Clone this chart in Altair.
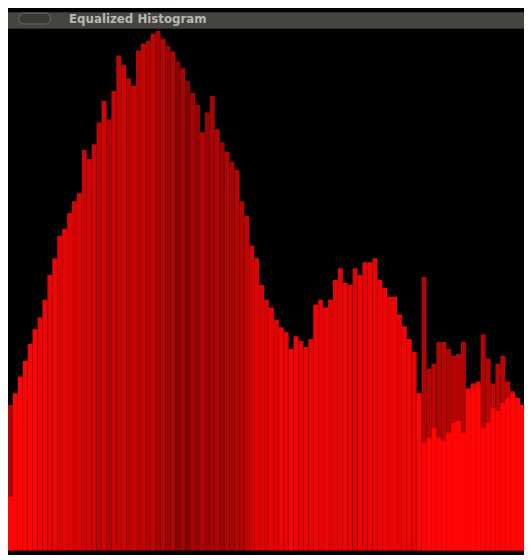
import altair as alt
import pandas as pd

# Bar heights (histogram counts, in plot units), one per 5-px bin
counts = [
    148, 160, 177, 193, 210, 225, 237, 255, 280, 297,
    320, 327, 343, 355, 363, 407, 398, 413, 435, 457,
    438, 467, 503, 493, 480, 472, 508, 515, 518, 525,
    528, 520, 513, 507, 497, 490, 477, 465, 453, 425,
    445, 462, 428, 415, 405, 395, 387, 355, 340, 310,
    297, 270, 255, 247, 235, 227, 222, 205, 218, 213,
    207, 215, 250, 255, 247, 255, 275, 287, 272, 270,
    287, 280, 293, 293, 297, 275, 267, 258, 258, 240,
    228, 215, 202, 160, 278, 185, 190, 212, 212, 205,
    198, 200, 212, 165, 170, 172, 220, 195, 170, 190,
    198, 172, 162, 155, 148,
]
# Bright lower part of the bins (0 = none)
base = [
    55, 0, 0, 0, 0, 0, 0, 0, 0, 0,
    0, 0, 0, 0, 0, 0, 0, 0, 0, 0,
    0, 0, 0, 0, 0, 0, 0, 0, 0, 0,
    0, 0, 0, 0, 0, 0, 0, 0, 0, 0,
    0, 0, 0, 0, 0, 0, 0, 0, 0, 0,
    0, 0, 0, 0, 0, 0, 0, 0, 0, 0,
    0, 0, 0, 0, 0, 0, 0, 0, 0, 0,
    0, 0, 0, 0, 0, 0, 0, 0, 0, 0,
    0, 0, 0, 0, 110, 115, 125, 115, 112, 120,
    130, 132, 120, 160, 165, 168, 125, 130, 145, 142,
    150, 155, 160, 155, 148,
]
# Brightness of each bin's red (0 dark .. 1 bright)
intensity = [
    0.55,
    1.0, 1.0, 0.95, 1.0, 0.95, 0.9,
    0.9, 0.85, 0.9, 0.8, 0.85,
    0.8, 0.75, 0.8, 0.7, 0.75, 0.7,
    0.65, 0.75, 0.6, 0.7, 0.65, 0.7, 0.6, 0.7, 0.6, 0.65, 0.55, 0.65,
    0.5, 0.6, 0.45, 0.55, 0.35, 0.5, 0.3, 0.5, 0.4, 0.55, 0.45,
    0.5, 0.55, 0.45, 0.55, 0.5, 0.6, 0.55, 0.65, 0.75,
    0.8, 0.8, 0.75, 0.85, 0.8, 0.9, 0.85, 0.95, 0.9,
    0.85, 0.9, 0.85, 0.9, 0.85, 0.9, 0.8, 0.85, 0.85, 0.9, 0.85, 0.8, 0.9,
    0.85, 0.9, 0.85, 0.9, 0.9, 0.85, 0.9, 0.85, 0.9, 0.9, 0.85, 1.0,
    0.55, 0.6, 0.6, 0.55, 0.6, 0.55, 0.6, 0.6, 0.55, 0.9, 0.9, 0.9,
    0.55, 0.6, 0.65, 0.6, 0.6, 0.65, 0.7, 0.7, 0.75,
]
window_title = "Equalized Histogram"

n = len(counts)
assert len(base) == n and len(intensity) == n

df = pd.DataFrame({
    "bin": list(range(n)),
    "bin_end": [i + 1 for i in range(n)],
    "count": counts,
    "base": base,
    "intensity": intensity,
})

W, H, BAR = 524, 547, 17

xs = alt.Scale(domain=[0, 104.8], nice=False, zero=False)
ys = alt.Scale(domain=[0, 530], range=[H, BAR], nice=False)

bars = alt.Chart(df).mark_rect(clip=True).encode(
    x=alt.X("bin:Q", scale=xs, axis=None),
    x2="bin_end:Q",
    y=alt.Y("count:Q", scale=ys, axis=None),
    y2=alt.datum(0),
    color=alt.Color(
        "intensity:Q",
        scale=alt.Scale(domain=[0, 1], range=["#4a0303", "#ff0606"], interpolate="rgb"),
        legend=None,
    ),
)

base_layer = alt.Chart(df).transform_filter("datum.base > 0").mark_rect(
    clip=True, color="#ff0505"
).encode(
    x=alt.X("bin:Q", scale=xs, axis=None),
    x2="bin_end:Q",
    y=alt.Y("base:Q", scale=ys, axis=None),
    y2=alt.datum(0),
)

# window title bar decoration
title_bar = alt.Chart(df).transform_filter("datum.bin == 0").mark_rect(
    color="#45443f"
).encode(
    x=alt.value(0), x2=alt.value(W), y=alt.value(0), y2=alt.value(BAR),
)
title_line = alt.Chart(df).transform_filter("datum.bin == 0").mark_rect(
    color="#2e2d2a"
).encode(
    x=alt.value(0), x2=alt.value(W), y=alt.value(BAR - 1), y2=alt.value(BAR),
)
button = alt.Chart(df).transform_filter("datum.bin == 0").mark_rect(
    color="#3a3935", cornerRadius=5, stroke="#6a6964", strokeWidth=1
).encode(
    x=alt.value(11), x2=alt.value(43), y=alt.value(1), y2=alt.value(12),
)
title_text = alt.Chart(df).transform_filter("datum.bin == 0").mark_text(
    text=window_title, align="left", baseline="middle",
    font="DejaVu Sans", fontSize=12, fontWeight="bold", color="#b8b8b8",
).encode(
    x=alt.value(62), y=alt.value(7),
)

chart = alt.layer(bars, base_layer, title_bar, title_line, button, title_text).properties(
    width=W,
    height=H,
    padding=0,
    autosize="none",
    background="#000000",
).configure_view(fill="black", strokeWidth=0)

chart.save("out.html", embed_options={"renderer": "svg", "actions": False})
